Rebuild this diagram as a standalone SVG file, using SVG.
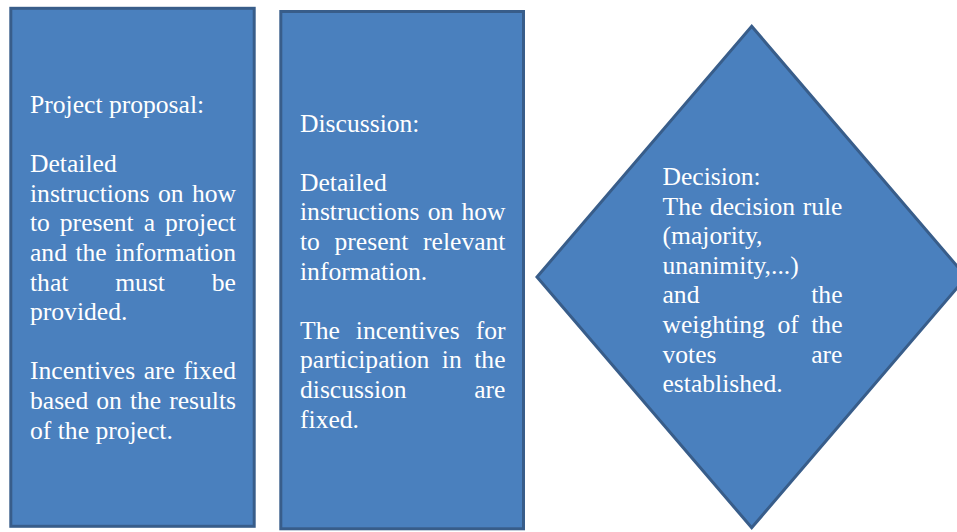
<svg xmlns="http://www.w3.org/2000/svg" width="957" height="532" viewBox="0 0 957 532">
<style>
.shape{fill:#4A80BE;stroke:#385D8A;stroke-width:3;stroke-linejoin:miter}
.t{font-family:'Liberation Serif',Tinos,'DejaVu Serif',serif;font-size:25.6px;fill:#FFFFFF}
</style>
<rect width="957" height="532" fill="#FFFFFF"/>
<g id="connectors"></g>
<g id="node-proposal">
<rect class="shape" x="10.8" y="8.3" width="243.4" height="518"/>
<text class="t" x="30" y="113">Project proposal:</text>
<text class="t" x="30" y="172.2">Detailed</text>
<text class="t" y="201.8"><tspan x="30">instructions</tspan><tspan x="157.9">on</tspan><tspan x="191.92">how</tspan></text>
<text class="t" y="231.4"><tspan x="30">to</tspan><tspan x="59.82">present</tspan><tspan x="143.65">a</tspan><tspan x="164.92">project</tspan></text>
<text class="t" y="261"><tspan x="30">and</tspan><tspan x="75.4">the</tspan><tspan x="115.11">information</tspan></text>
<text class="t" y="290.6"><tspan x="30">that</tspan><tspan x="115.2">must</tspan><tspan x="211.8">be</tspan></text>
<text class="t" x="30" y="320.2">provided.</text>
<text class="t" y="379.4"><tspan x="30">Incentives</tspan><tspan x="143.68">are</tspan><tspan x="183.4">fixed</tspan></text>
<text class="t" y="409"><tspan x="30">based</tspan><tspan x="96.29">on</tspan><tspan x="129.89">the</tspan><tspan x="169.17">results</tspan></text>
<text class="t" x="30" y="438.6">of the project.</text>
</g>
<g id="node-discussion">
<rect class="shape" x="280.8" y="11.5" width="242.7" height="517.3"/>
<text class="t" x="300" y="131.5">Discussion:</text>
<text class="t" x="300" y="190.7">Detailed</text>
<text class="t" y="220.3"><tspan x="300">instructions</tspan><tspan x="427.65">on</tspan><tspan x="461.42">how</tspan></text>
<text class="t" y="249.9"><tspan x="300">to</tspan><tspan x="334.52">present</tspan><tspan x="423.05">relevant</tspan></text>
<text class="t" x="300" y="279.5">information.</text>
<text class="t" y="338.7"><tspan x="300">The</tspan><tspan x="355.83">incentives</tspan><tspan x="475.66">for</tspan></text>
<text class="t" y="368.3"><tspan x="300">participation</tspan><tspan x="441.86">in</tspan><tspan x="474.23">the</tspan></text>
<text class="t" y="397.9"><tspan x="300">discussion</tspan><tspan x="474.24">are</tspan></text>
<text class="t" x="300" y="427.5">fixed.</text>
</g>
<g id="node-decision">
<polygon class="shape" points="751.7,26.3 966.4,277 751.7,527.7 537,277"/>
<text class="t" x="662.5" y="185">Decision:</text>
<text class="t" y="214.6"><tspan x="662.5">The</tspan><tspan x="709.84">decision</tspan><tspan x="802.69">rule</tspan></text>
<text class="t" x="662.5" y="244.2">(majority,</text>
<text class="t" x="662.5" y="273.8">unanimity,...)</text>
<text class="t" y="303.4"><tspan x="662.5">and</tspan><tspan x="811.22">the</tspan></text>
<text class="t" y="333"><tspan x="662.5">weighting</tspan><tspan x="777.4">of</tspan><tspan x="811.22">the</tspan></text>
<text class="t" y="362.6"><tspan x="662.5">votes</tspan><tspan x="811.24">are</tspan></text>
<text class="t" x="662.5" y="392.2">established.</text>
</g>
</svg>
